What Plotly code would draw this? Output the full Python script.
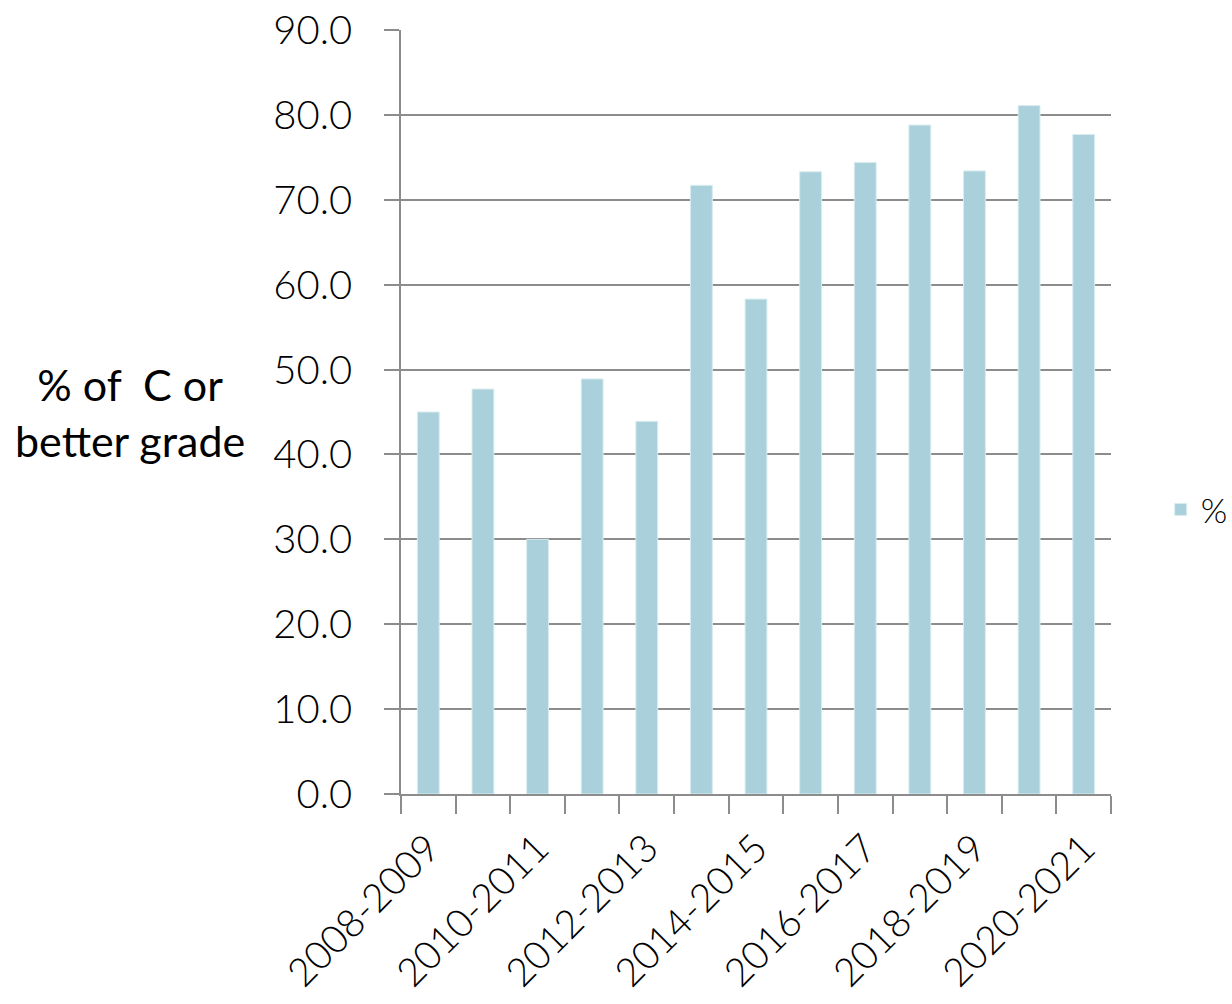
import plotly.graph_objects as go

# Academic years and share of students earning C or better (%)
years = [
    "2008-2009", "2009-2010", "2010-2011", "2011-2012", "2012-2013",
    "2013-2014", "2014-2015", "2015-2016", "2016-2017", "2017-2018",
    "2018-2019", "2019-2020", "2020-2021",
]
pct_c_or_better = [45.0, 47.7, 30.0, 48.9, 43.9, 71.7, 58.3, 73.3, 74.4, 78.8, 73.4, 81.1, 77.7]

# Only every other year is labelled on the axis
year_labels = [y if i % 2 == 0 else "" for i, y in enumerate(years)]

FONT = "Lato"
GRID = "#8c8c8c"

fig = go.Figure()
fig.add_trace(go.Bar(
    x=years,
    y=pct_c_or_better,
    name="%",
    marker=dict(color="#aad1db", line=dict(color="#d9ecf0", width=1)),
))

fig.update_layout(
    width=1232,
    height=1004,
    margin=dict(l=401, r=121, t=30, b=210, autoexpand=False),
    paper_bgcolor="white",
    plot_bgcolor="white",
    bargap=0.6,
    font=dict(family=FONT, size=40, color="black", weight=300),
    showlegend=True,
    legend=dict(
        x=1.07, y=0.372, xanchor="left", yanchor="middle",
        font=dict(size=34, family=FONT, weight=300),
    ),
    xaxis=dict(
        type="category",
        tickmode="array",
        tickvals=years,
        ticktext=year_labels,
        tickangle=-45,
        tickson="boundaries",
        ticks="outside",
        ticklen=18,
        tickcolor=GRID,
        tickwidth=1.5,
        ticklabelstandoff=14,
        showline=True,
        linecolor=GRID,
        linewidth=1.5,
        showgrid=False,
        automargin=False,
        tickfont=dict(size=39, family=FONT, weight=300),
    ),
    yaxis=dict(
        range=[0, 90],
        tick0=0,
        dtick=10,
        tickformat=".1f",
        ticks="outside",
        ticklen=15,
        tickcolor=GRID,
        tickwidth=1.5,
        ticklabelstandoff=24,
        showline=True,
        linecolor=GRID,
        linewidth=1.5,
        showgrid=True,
        gridcolor=GRID,
        gridwidth=1.5,
        zeroline=False,
        automargin=False,
        tickfont=dict(size=40, family=FONT, weight=300),
    ),
    annotations=[
        dict(
            text="% of  C or<br>better grade",
            xref="paper", yref="paper",
            x=-0.382, y=0.499,
            xanchor="center", yanchor="middle",
            showarrow=False,
            align="center",
            font=dict(size=43, family=FONT, weight=400, color="black"),
        )
    ],
)

fig.write_html("out.html")
